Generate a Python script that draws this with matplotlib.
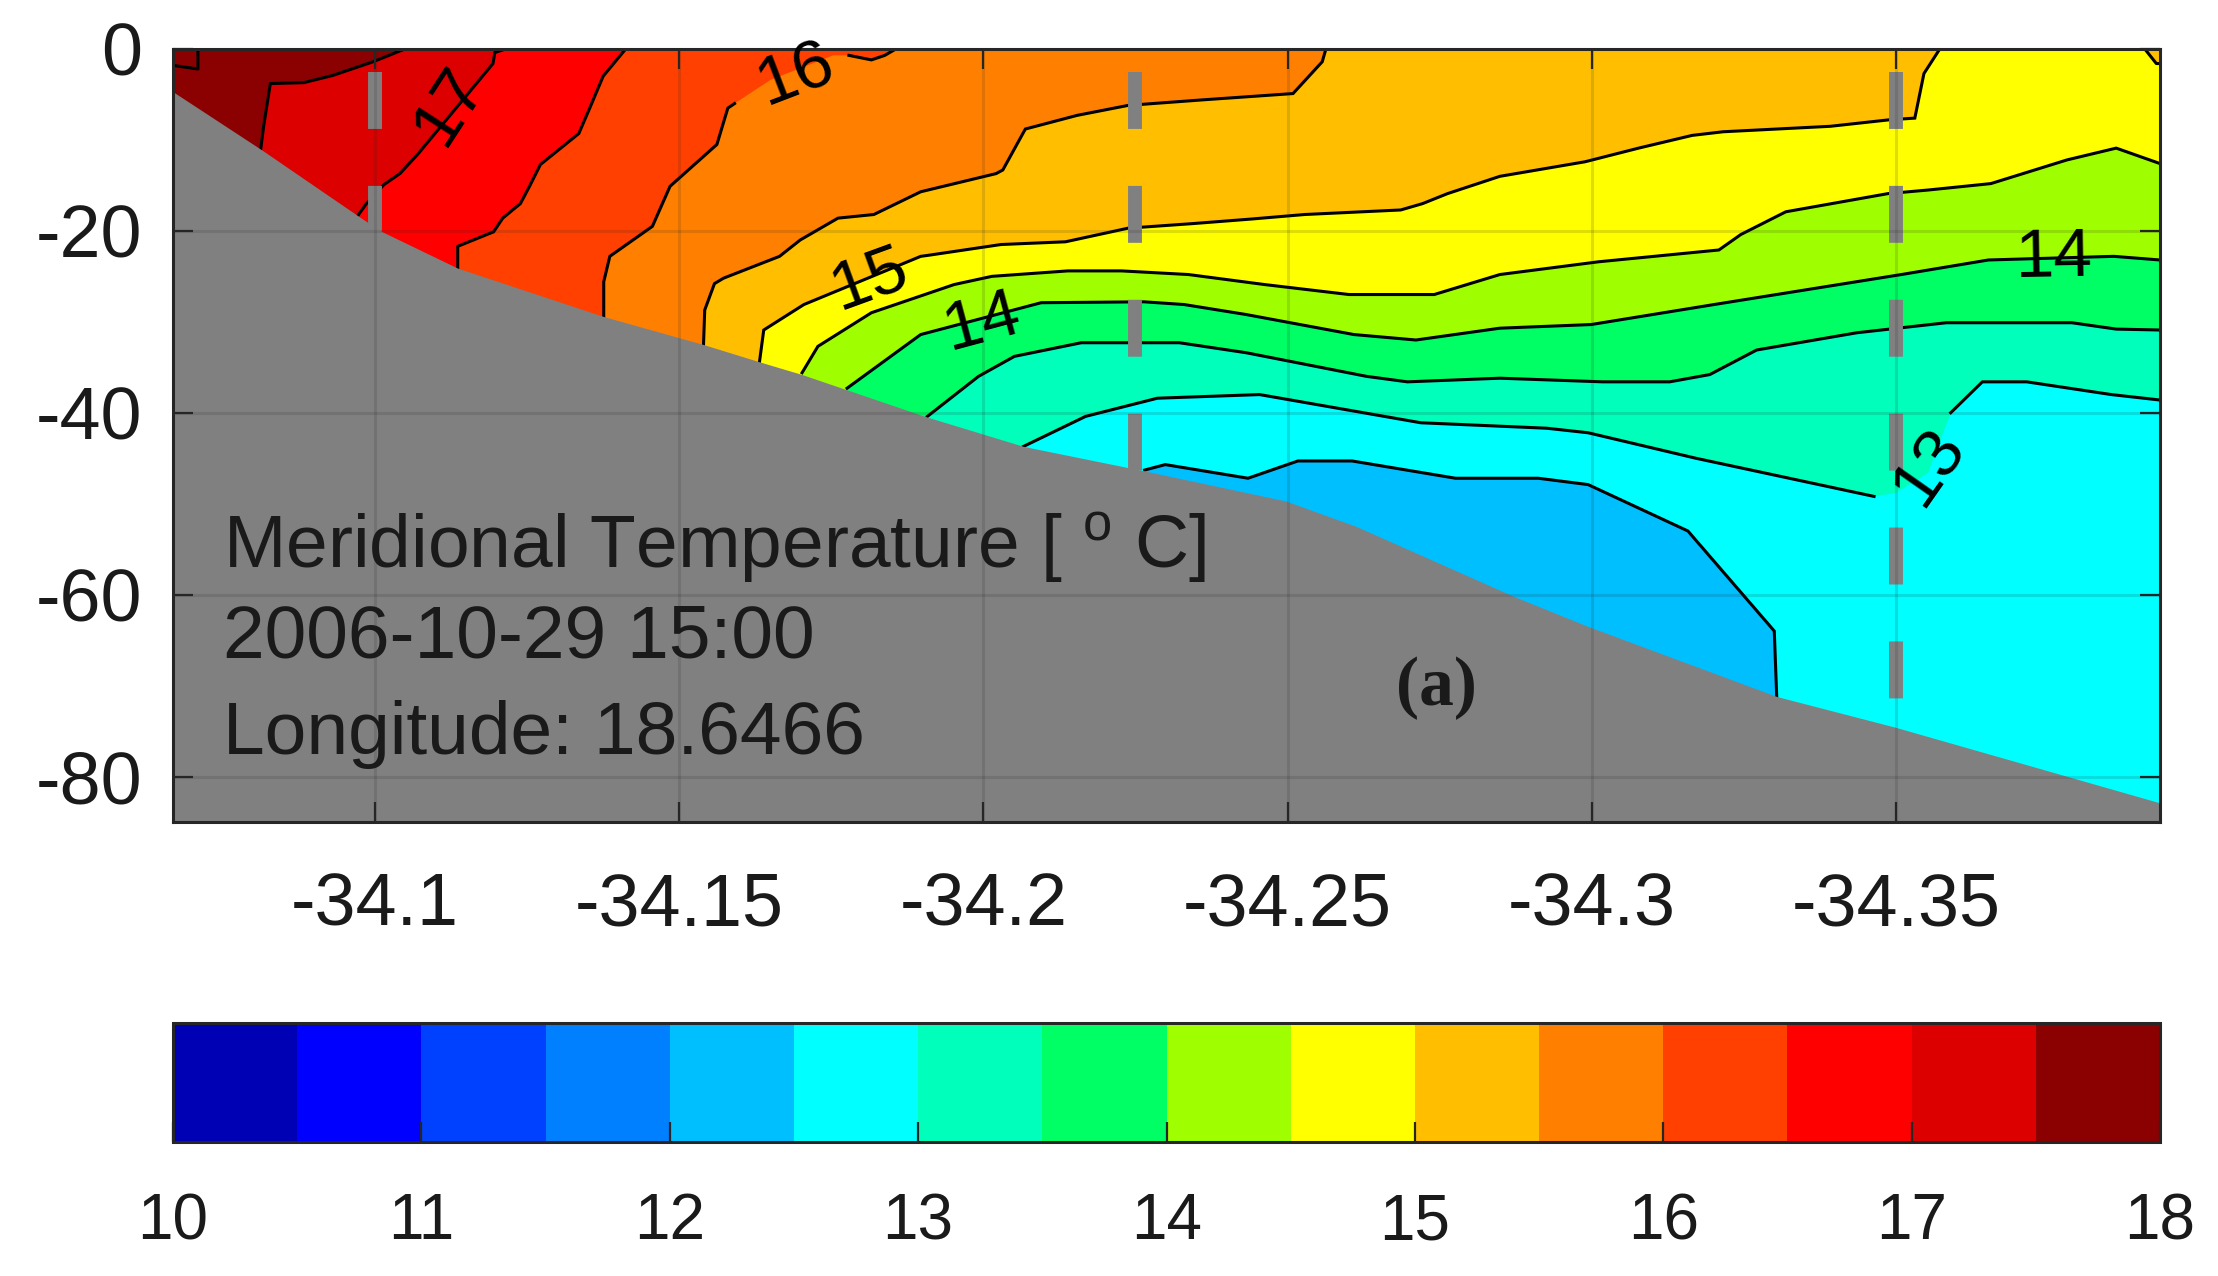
import numpy as np
import matplotlib
matplotlib.use('Agg')
import matplotlib.pyplot as plt
from matplotlib.colors import ListedColormap, BoundaryNorm
from matplotlib.cm import ScalarMappable

plt.rcParams['font.family'] = ['Liberation Sans', 'DejaVu Sans']
plt.rcParams['mathtext.default'] = 'regular'
plt.rcParams['axes.unicode_minus'] = False

# colour of each 0.5 degree band, 10 to 18
band_colors = ['#0000b4', '#0000ff', '#0040ff', '#0080ff', '#00bfff', '#00ffff',
               '#00ffbb', '#00ff64', '#9fff00', '#ffff00', '#ffbf00', '#ff8000',
               '#ff4000', '#ff0000', '#dc0000', '#8b0000']
band_edges = np.arange(10, 18.5, 0.5)
cbar_ticks = [10, 11, 12, 13, 14, 15, 16, 17, 18]

lat_ticks = [-34.35, -34.3, -34.25, -34.2, -34.15, -34.1]
lat_labels = ['-34.35', '-34.3', '-34.25', '-34.2', '-34.15', '-34.1']
depth_ticks = [-80, -60, -40, -20, 0]

bottom_lat = [-34.0668, -34.0814, -34.0982, -34.1012, -34.1136, -34.1375, -34.1540, -34.1632,
              -34.1702, -34.1904, -34.2066, -34.2265, -34.2497, -34.2613, -34.2872, -34.2994,
              -34.3304, -34.3500, -34.3934]
bottom_depth = [-4.7, -11.1, -18.8, -20.1, -24.1, -29.4, -32.5, -34.4,
                -35.8, -40.4, -43.7, -46.4, -49.7, -52.5, -60.2, -63.5,
                -71.2, -74.6, -82.9]

# isotherms, from the sea bed out to the surface or the right edge
lat_175 = [-34.0812, -34.0817, -34.0828, -34.0883, -34.0931, -34.0997, -34.1049]
dep_175 = [-11.1, -8.5, -3.8, -3.7, -2.9, -1.4, 0]

lat_170 = [-34.0971, -34.0986, -34.1015, -34.1041, -34.1070, -34.1194, -34.1197, -34.1214]
dep_170 = [-18.4, -17.0, -14.9, -13.7, -11.6, -1.6, -0.4, 0]

lat_165 = [-34.1136, -34.1136, -34.1195, -34.1210, -34.1239, -34.1254, -34.1272, -34.1335,
           -34.1353, -34.1375, -34.1412]
dep_165 = [-24.1, -21.7, -20.1, -18.6, -17.0, -15.1, -12.7, -9.3, -6.5, -3.0, 0]

lat_160 = [-34.1376, -34.1376, -34.1386, -34.1456, -34.1485, -34.1562, -34.1580, -34.1591,
           -34.1650, -34.1753, -34.1779, -34.1816, -34.1838, -34.1856]
dep_160 = [-29.4, -25.6, -22.8, -19.5, -15.1, -10.5, -6.5, -6.0,
           -3.4, -0.7, -0.7, -1.2, -0.7, 0]

lat_155 = [-34.1540, -34.1542, -34.1558, -34.1573, -34.1665, -34.1699, -34.1761, -34.1820,
           -34.1897, -34.2021, -34.2032, -34.2069, -34.2154, -34.2238, -34.2359, -34.2509,
           -34.2557, -34.2563]
dep_155 = [-32.5, -28.7, -25.8, -25.2, -22.8, -21.0, -18.6, -18.2,
           -15.7, -13.7, -13.3, -8.8, -7.3, -6.2, -5.6, -4.9,
           -1.4, 0]

lat_150 = [-34.1632, -34.1639, -34.1705, -34.1897, -34.1908, -34.2029, -34.2135, -34.2238,
           -34.2344, -34.2440, -34.2528, -34.2686, -34.2722, -34.2763, -34.2849, -34.2989,
           -34.3077, -34.3165, -34.3216, -34.3392, -34.3487, -34.3531, -34.3546, -34.3572]
dep_150 = [-34.4, -30.9, -28.1, -22.8, -22.7, -21.5, -21.2, -19.7,
           -19.2, -18.7, -18.2, -17.7, -17.0, -15.9, -14.0, -12.4,
           -10.9, -9.5, -9.1, -8.5, -7.8, -7.6, -2.7, 0]

lat_145 = [-34.1702, -34.1728, -34.1816, -34.1952, -34.2014, -34.2139, -34.2227, -34.2337,
           -34.2462, -34.2601, -34.2741, -34.2849, -34.3011, -34.3209, -34.3245, -34.3319,
           -34.3487, -34.3554, -34.3656, -34.3781, -34.3862, -34.3934]
dep_145 = [-35.6, -32.7, -29.0, -25.9, -25.0, -24.4, -24.4, -24.8,
           -25.9, -27.0, -27.0, -24.8, -23.4, -22.1, -20.4, -17.9,
           -15.9, -15.5, -14.8, -12.2, -10.9, -12.6]

lat_140 = [-34.1776, -34.1897, -34.2095, -34.2264, -34.2330, -34.2432, -34.2609, -34.2711,
           -34.2849, -34.2999, -34.3201, -34.3509, -34.3652, -34.3858, -34.3934]
dep_140 = [-37.3, -31.4, -27.9, -27.8, -28.1, -29.2, -31.4, -32.0,
           -30.7, -30.3, -28.1, -24.8, -23.2, -22.8, -23.2]

lat_135 = [-34.1908, -34.1992, -34.2051, -34.2161, -34.2322, -34.2432, -34.2630, -34.2697,
           -34.2849, -34.3018, -34.3128, -34.3194, -34.3271, -34.3436, -34.3583, -34.3789,
           -34.3862, -34.3934]
dep_135 = [-40.4, -36.0, -33.8, -32.3, -32.3, -33.4, -36.0, -36.6,
           -36.2, -36.6, -36.6, -35.8, -33.1, -31.2, -30.1, -30.1,
           -30.8, -30.9]

lat_130 = [-34.2066, -34.2168, -34.2286, -34.2454, -34.2719, -34.2926, -34.2994, -34.3171,
           -34.3464, -34.3500, -34.3553, -34.3590, -34.3642, -34.3715, -34.3854, -34.3934]
dep_130 = [-43.7, -40.4, -38.4, -38.0, -41.1, -41.7, -42.2, -45.0,
           -49.2, -48.8, -46.6, -40.0, -36.6, -36.6, -38.0, -38.6]

lat_125 = [-34.2265, -34.2299, -34.2435, -34.2517, -34.2606, -34.2776, -34.2912, -34.2994,
           -34.3158, -34.3300, -34.3304]
dep_125 = [-46.3, -45.7, -47.2, -45.3, -45.3, -47.2, -47.2, -47.9,
           -53.0, -64.0, -71.2]

# small closed bits in the corners
lat_180 = [-34.0668, -34.0709, -34.0709]
dep_180 = [-1.8, -2.2, 0]
lat_corner = [-34.3909, -34.3928, -34.3934]
dep_corner = [0, -1.6, -1.6]

isotherms = [(17.5, lat_175, dep_175), (17.0, lat_170, dep_170), (16.5, lat_165, dep_165),
             (16.0, lat_160, dep_160), (15.5, lat_155, dep_155), (15.0, lat_150, dep_150),
             (14.5, lat_145, dep_145), (14.0, lat_140, dep_140), (13.5, lat_135, dep_135),
             (13.0, lat_130, dep_130), (12.5, lat_125, dep_125)]

# contour labels: text, lat, depth, rotation
labels = [('17', -34.1122, -6.2, 57), ('16', -34.1692, -2.9, 21), ('15', -34.1814, -25.3, 20),
          ('14', -34.1999, -30.1, 15), ('14', -34.3760, -23.0, 1), ('13', -34.3556, -45.9, 55)]
# breaks in the contour lines for those labels
label_gaps = {17.0: [(-34.1071, -34.1193)], 16.0: [(-34.1592, -34.1778)],
              15.0: [(-34.1706, -34.1896)],
              14.0: [(-34.1898, -34.2094), (-34.3653, -34.3857)],
              13.0: [(-34.3465, -34.3589)]}

dash_lat = [-34.1, -34.225, -34.35]
dash_end = [-20.0, -46.8, -72.2]

xleft, xright = -34.0668, -34.3934
ytop, ybot = 0, -85
dark = '#262626'
W, H = 2218, 1276

fig = plt.figure(figsize=(W / 100, H / 100), dpi=100)
ax = fig.add_axes([173 / W, 1 - 822 / H, (2160 - 173) / W, (822 - 49) / H])
cax = fig.add_axes([173 / W, 1 - 1142 / H, (2160 - 173) / W, (1142 - 1023) / H])

# warmest band first, then paint everything colder on top
ax.fill([xleft, xright, xright, xleft], [ytop, ytop, ybot, ybot], color=band_colors[-1], lw=0)
for level, lat, dep in isotherms:
    i = int(round((level - 10) / 0.5)) - 1
    px = list(lat)
    py = list(dep)
    if py[-1] == 0:
        px += [xright, xright]
        py += [0, ybot]
    else:
        px += [px[-1]]
        py += [ybot]
    px += [lat[0]]
    py += [ybot]
    ax.fill(px, py, color=band_colors[i], lw=0, zorder=1)
ax.fill(lat_corner + [xright], dep_corner + [0], color=band_colors[10], lw=0, zorder=1.1)

for level, lat, dep in isotherms:
    lat = np.array(lat)
    dep = np.array(dep, dtype=float)
    for a, b in label_gaps.get(level, []):
        dep[(lat < a) & (lat > b)] = np.nan
    ax.plot(lat, dep, color='k', lw=2.2, zorder=1.5, solid_joinstyle='miter')
ax.plot(lat_180, dep_180, color='k', lw=2.2, zorder=1.5)
ax.plot(lat_corner, dep_corner, color='k', lw=2.2, zorder=1.5)

ax.fill_between(bottom_lat, bottom_depth, ybot, color='#808080', lw=0, zorder=2)

for x, end in zip(dash_lat, dash_end):
    ax.plot([x, x], [-2.5, end], color='#808080', lw=10, ls=(0, (4.1, 4.1)),
            dash_capstyle='butt', zorder=2.2)

for txt, x, y, rot in labels:
    ax.text(x, y, txt, fontsize=50, rotation=rot, ha='center', va='center',
            rotation_mode='anchor', color='k', zorder=4)

ax.text(-34.0751, -57.1, 'Meridional Temperature [ $^{o}$ C]', fontsize=54, color='#1a1a1a', va='baseline')
ax.text(-34.0751, -66.9, '2006-10-29 15:00', fontsize=54, color='#1a1a1a', va='baseline')
ax.text(-34.0751, -77.5, 'Longitude: 18.6466', fontsize=54, color='#1a1a1a', va='baseline')
ax.text(-34.2744, -70.3, '(a)', fontsize=50, fontfamily='Liberation Serif', fontweight='bold',
        ha='center', va='center', color='#1a1a1a')

ax.set_xlim(xleft, xright)
ax.set_ylim(ybot, ytop)
ax.set_xticks(lat_ticks)
ax.set_xticklabels(lat_labels)
ax.set_yticks(depth_ticks)
ax.grid(True, color=dark, alpha=0.15, lw=2.2)
ax.set_axisbelow(False)
ax.tick_params(direction='in', length=14.4, width=1.6, color=dark, labelcolor='#1a1a1a',
               labelsize=53, top=True, right=True)
ax.tick_params(axis='x', pad=36)
ax.tick_params(axis='y', pad=22)
for s in ax.spines.values():
    s.set_linewidth(2.2)
    s.set_color(dark)

cmap = ListedColormap(band_colors)
norm = BoundaryNorm(band_edges, cmap.N)
cb = fig.colorbar(ScalarMappable(norm=norm, cmap=cmap), cax=cax, orientation='horizontal',
                  ticks=cbar_ticks, spacing='proportional')
cb.ax.minorticks_off()
cb.ax.tick_params(direction='in', length=14.4, width=1.6, color=dark, labelcolor='#1a1a1a',
                  labelsize=46, pad=36)
cb.outline.set_linewidth(2.2)
cb.outline.set_edgecolor(dark)

fig.savefig('out.png', dpi=100, facecolor='white')
